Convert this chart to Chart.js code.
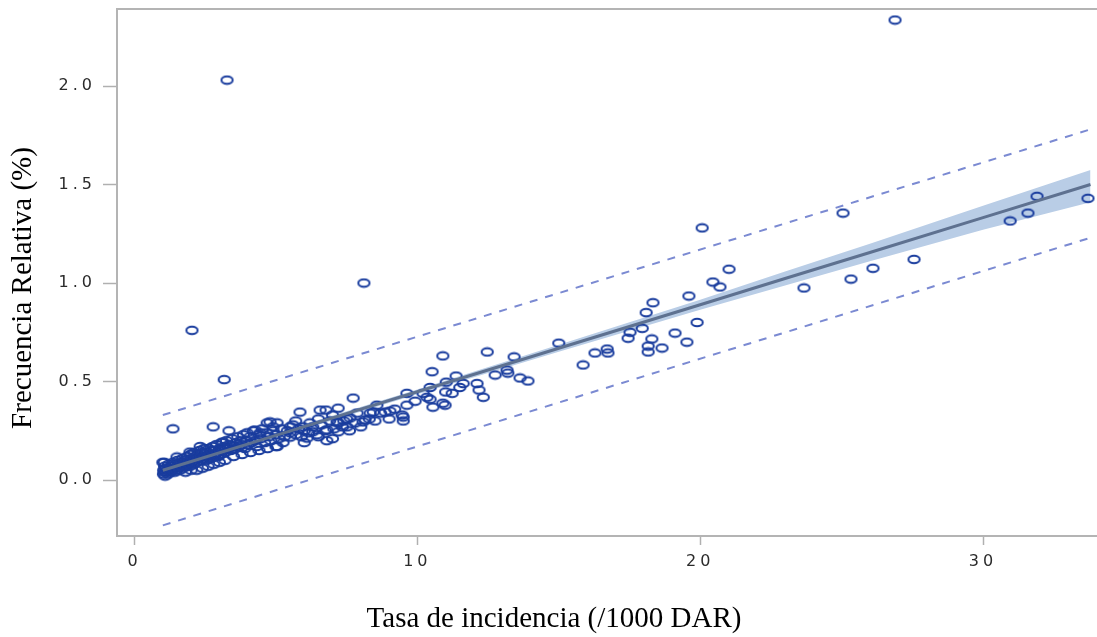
<!DOCTYPE html>
<html>
<head>
<meta charset="utf-8">
<script src="https://cdn.jsdelivr.net/npm/chart.js@4/dist/chart.umd.min.js"></script>
<style>
  body { margin: 0; background: #fff; }
</style>
</head>
<body>
<canvas id="grafico" width="1097" height="637"></canvas>
<script>
// Datos: tasa de incidencia (eje x) y frecuencia relativa (eje y)
var incidencia = [
  3.27, 26.89, 2.03, 8.11, 3.17, 1.36, 20.07, 25.05,
  33.71, 31.91, 31.59, 30.96, 27.56, 26.11, 25.33, 23.67, 21.02, 20.45, 20.70, 19.60,
  18.33, 18.09, 19.89, 17.95, 17.52, 17.45, 19.11, 19.53, 18.29, 18.16, 18.65, 18.16, 16.71, 16.74, 16.28, 15.86, 15.00,
  12.47, 10.90, 13.42, 10.52, 12.75, 13.17, 13.20, 11.37, 13.63, 13.91, 11.02, 11.62, 12.11, 12.18, 12.33, 11.50, 11.23,
  9.63, 10.20, 10.45, 9.92, 10.55, 10.90, 9.63, 11.00, 9.50, 9.50, 10.45, 10.34, 10.98,
  7.73, 5.85, 6.56, 7.20, 6.77, 8.57, 9.46, 8.86, 9.03, 8.33, 7.87, 8.08, 7.62, 7.51, 7.16, 7.20, 6.80, 6.30, 5.96, 5.50,
  5.04, 4.79, 6.80, 6.10, 5.50, 5.25, 5.04, 8.44, 8.15,
  2.78, 3.34, 2.32, 3.13, 3.98, 4.26, 4.69, 4.90, 4.44, 1.00, 1.50, 1.96,
  1.02, 1.03, 1.05, 1.06, 1.08, 1.10, 1.12, 1.15, 1.18, 1.20, 1.22, 1.25, 1.28, 1.30, 1.33, 1.36, 1.40, 1.42, 1.45, 1.48,
  1.50, 1.05, 1.52, 1.55, 1.58, 1.60, 1.63, 1.66, 1.70, 1.72, 1.75, 1.78, 1.80, 1.83, 1.86, 1.90, 1.93, 1.96, 1.98,
  2.02, 2.05, 2.08, 2.10, 2.13, 2.16, 2.20, 2.23, 2.26, 2.30, 2.33, 2.36, 2.40, 2.43, 2.46, 2.50,
  2.53, 2.56, 2.60, 2.63, 2.66, 2.70, 2.73, 2.76, 2.80, 2.83, 2.86, 2.90, 2.93, 2.96, 3.00,
  3.04, 3.08, 3.12, 3.16, 3.20, 3.25, 3.30, 3.35, 3.40, 3.45, 3.50,
  3.55, 3.60, 3.65, 3.70, 3.75, 3.80, 3.85, 3.90, 3.95,
  4.02, 4.08, 4.14, 4.20, 4.26, 4.32, 4.40, 4.46, 4.52, 4.60, 4.68, 4.75, 4.82, 4.90,
  5.00, 5.10, 5.20, 5.30, 5.40, 5.50, 5.60, 5.70, 5.80, 5.90, 6.00,
  6.15, 6.30, 6.45, 6.60, 6.75, 6.90, 7.05, 7.20, 7.35, 7.50,
  1.80, 2.00, 2.20, 2.40, 2.60, 2.80, 3.00, 3.20, 3.50, 3.80, 4.10, 4.40, 4.70, 5.00,
  5.70, 6.20, 6.50, 7.00, 7.40, 7.80, 8.30, 8.70, 9.20, 6.00, 6.50, 7.00, 7.60, 8.00, 8.50, 9.00
];
var frecuencia = [
  2.030, 2.335, 0.760, 1.000, 0.510, 0.260, 1.280, 1.355,
  1.430, 1.440, 1.355, 1.315, 1.120, 1.075, 1.020, 0.975, 1.070, 1.005, 0.980, 0.934,
  0.900, 0.850, 0.800, 0.770, 0.750, 0.720, 0.746, 0.700, 0.716, 0.680, 0.670, 0.650, 0.665, 0.645, 0.645, 0.584, 0.695,
  0.650, 0.630, 0.625, 0.550, 0.533, 0.558, 0.543, 0.528, 0.518, 0.503, 0.497, 0.490, 0.490, 0.457, 0.420, 0.470, 0.440,
  0.440, 0.440, 0.410, 0.400, 0.370, 0.390, 0.380, 0.447, 0.320, 0.300, 0.470, 0.420, 0.380,
  0.416, 0.345, 0.355, 0.365, 0.355, 0.380, 0.330, 0.345, 0.350, 0.340, 0.340, 0.295, 0.315, 0.270, 0.295, 0.245, 0.255, 0.245, 0.270, 0.270,
  0.290, 0.295, 0.200, 0.213, 0.218, 0.190, 0.170, 0.345, 0.305,
  0.270, 0.250, 0.170, 0.193, 0.240, 0.254, 0.290, 0.270, 0.240, 0.090, 0.117, 0.142,
  0.03, 0.05, 0.04, 0.07, 0.02, 0.06, 0.04, 0.05, 0.03, 0.08, 0.05, 0.06, 0.04, 0.07, 0.05, 0.09, 0.06, 0.04, 0.08, 0.05,
  0.07, 0.09, 0.10, 0.06, 0.08, 0.05, 0.09, 0.07, 0.11, 0.06, 0.08, 0.10, 0.07, 0.09, 0.12, 0.08, 0.10, 0.07, 0.13,
  0.09, 0.11, 0.08, 0.14, 0.10, 0.12, 0.09, 0.13, 0.11, 0.15, 0.10, 0.12, 0.14, 0.11, 0.16, 0.12,
  0.10, 0.14, 0.12, 0.16, 0.13, 0.11, 0.15, 0.17, 0.13, 0.12, 0.15, 0.18, 0.14, 0.12, 0.16,
  0.13, 0.19, 0.15, 0.17, 0.14, 0.20, 0.16, 0.18, 0.15, 0.21, 0.17,
  0.16, 0.19, 0.22, 0.17, 0.20, 0.18, 0.23, 0.16, 0.20,
  0.18, 0.22, 0.19, 0.25, 0.20, 0.17, 0.23, 0.21, 0.26, 0.19, 0.24, 0.22, 0.20, 0.25,
  0.23, 0.21, 0.26, 0.22, 0.25, 0.24, 0.28, 0.23, 0.26, 0.22, 0.25,
  0.24, 0.27, 0.23, 0.28, 0.25, 0.30, 0.26, 0.29, 0.27, 0.31,
  0.04, 0.05, 0.05, 0.06, 0.07, 0.08, 0.09, 0.10, 0.12, 0.13, 0.14, 0.15, 0.16, 0.17,
  0.30, 0.29, 0.31, 0.33, 0.30, 0.29, 0.31, 0.34, 0.36, 0.19, 0.22, 0.21, 0.25, 0.27, 0.30, 0.31
];

// Recta de ajuste y banda de confianza
var ajusteX = [1, 5, 10, 15, 20, 23, 26, 30, 33.8];
var ajusteY = [0.050, 0.227, 0.448, 0.669, 0.890, 1.023, 1.155, 1.332, 1.500];
var bandaInf = [0.035, 0.215, 0.436, 0.651, 0.865, 0.988, 1.110, 1.270, 1.410];
var bandaSup = [0.065, 0.239, 0.460, 0.687, 0.915, 1.058, 1.200, 1.392, 1.574];

// Intervalo de predicción (líneas discontinuas)
var predX = [1, 33.8];
var predInf = [-0.23, 1.23];
var predSup = [0.33, 1.78];

var ticksX = [0, 10, 20, 30];
var ticksY = [0, 0.5, 1, 1.5, 2];

var tituloX = 'Tasa de incidencia (/1000 DAR)';
var tituloY = 'Frecuencia Relativa (%)';

function pares(xs, ys) {
  return xs.map(function(x, i) { return { x: x, y: ys[i] }; });
}

// Marcador: anillo ovalado como en el original
function crearAnillo() {
  var c = document.createElement('canvas');
  c.width = 15;
  c.height = 11;
  var g = c.getContext('2d');
  g.strokeStyle = '#1a3d9e';
  g.lineWidth = 2;
  g.beginPath();
  g.ellipse(7.5, 5.5, 5.6, 3.7, 0, 0, Math.PI * 2);
  g.stroke();
  return c;
}

// Las etiquetas de los ejes son más anchas en el original
var dibujarEtiquetas = Chart.LinearScale.prototype.drawLabels;
Chart.LinearScale.prototype.drawLabels = function(area) {
  this.ctx.save();
  this.ctx.letterSpacing = '4px';
  dibujarEtiquetas.call(this, area);
  this.ctx.restore();
};

// Sin relleno extra alrededor del área del gráfico
function ajustarEje(scale, ancho, alto) {
  if (ancho) scale.width = ancho;
  if (alto) scale.height = alto;
  scale.paddingTop = 0;
  scale.paddingBottom = 0;
  scale.paddingLeft = 0;
  scale.paddingRight = 0;
}

// Borde superior y títulos de los ejes
var marco = {
  id: 'marco',
  afterDraw: function(chart) {
    var a = chart.chartArea;
    var ctx = chart.ctx;
    ctx.save();
    ctx.strokeStyle = '#b4b4b4';
    ctx.lineWidth = 2;
    ctx.beginPath();
    ctx.moveTo(a.left - 1, a.top);
    ctx.lineTo(a.right, a.top);
    ctx.stroke();

    ctx.fillStyle = '#000';
    ctx.font = '29px "Liberation Serif"';
    ctx.textAlign = 'center';
    ctx.textBaseline = 'middle';
    ctx.fillText(tituloX, 554, 619);

    ctx.translate(23, 288);
    ctx.rotate(-Math.PI / 2);
    ctx.fillText(tituloY, 0, 0);
    ctx.restore();
  }
};

var ctx = document.getElementById('grafico').getContext('2d');
var chart = new Chart(ctx, {
  type: 'scatter',
  data: {
    datasets: [
      {
        label: 'banda inf',
        data: pares(ajusteX, bandaInf),
        showLine: true,
        borderWidth: 0,
        pointRadius: 0,
        fill: false,
        order: 5
      },
      {
        label: 'banda sup',
        data: pares(ajusteX, bandaSup),
        showLine: true,
        borderWidth: 0,
        pointRadius: 0,
        backgroundColor: '#b9cde6',
        fill: '-1',
        order: 4
      },
      {
        label: 'Observaciones',
        data: pares(incidencia, frecuencia),
        pointStyle: crearAnillo(),
        pointRadius: 5,
        order: 3
      },
      {
        label: 'pred inf',
        data: pares(predX, predInf),
        showLine: true,
        borderColor: '#7b8ad2',
        borderWidth: 2,
        borderDash: [8, 8],
        pointRadius: 0,
        order: 2
      },
      {
        label: 'pred sup',
        data: pares(predX, predSup),
        showLine: true,
        borderColor: '#7b8ad2',
        borderWidth: 2,
        borderDash: [8, 8],
        pointRadius: 0,
        order: 2
      },
      {
        label: 'Ajuste',
        data: pares(ajusteX, ajusteY),
        showLine: true,
        borderColor: '#5e7190',
        borderWidth: 3,
        pointRadius: 0,
        order: 1
      }
    ]
  },
  options: {
    responsive: false,
    animation: false,
    devicePixelRatio: 1,
    layout: { autoPadding: false, padding: { top: 9, right: 0, bottom: 0, left: 0 } },
    plugins: {
      legend: { display: false },
      tooltip: { enabled: false }
    },
    scales: {
      x: {
        type: 'linear',
        min: -0.62,
        max: 34.03,
        afterFit: function(scale) { ajustarEje(scale, 0, 101); },
        afterBuildTicks: function(scale) {
          scale.ticks = ticksX.map(function(v) { return { value: v }; });
        },
        grid: { drawOnChartArea: false, tickLength: 9, color: '#b0b0b0', tickWidth: 1.5 },
        border: { color: '#b4b4b4', width: 2 },
        ticks: {
          padding: 7,
          color: '#2b2b2b',
          font: { family: 'DejaVu Sans', size: 16 },
          callback: function(v) { return String(v); }
        }
      },
      y: {
        type: 'linear',
        min: -0.284,
        max: 2.391,
        afterFit: function(scale) { ajustarEje(scale, 117, 0); },
        afterBuildTicks: function(scale) {
          scale.ticks = ticksY.map(function(v) { return { value: v }; });
        },
        grid: { drawOnChartArea: false, tickLength: 14, color: '#b0b0b0', tickWidth: 1.5 },
        border: { color: '#b4b4b4', width: 2 },
        ticks: {
          padding: 7,
          color: '#2b2b2b',
          font: { family: 'DejaVu Sans', size: 16 },
          callback: function(v) { return v.toFixed(1); }
        }
      }
    }
  },
  plugins: [marco]
});
</script>
</body>
</html>
